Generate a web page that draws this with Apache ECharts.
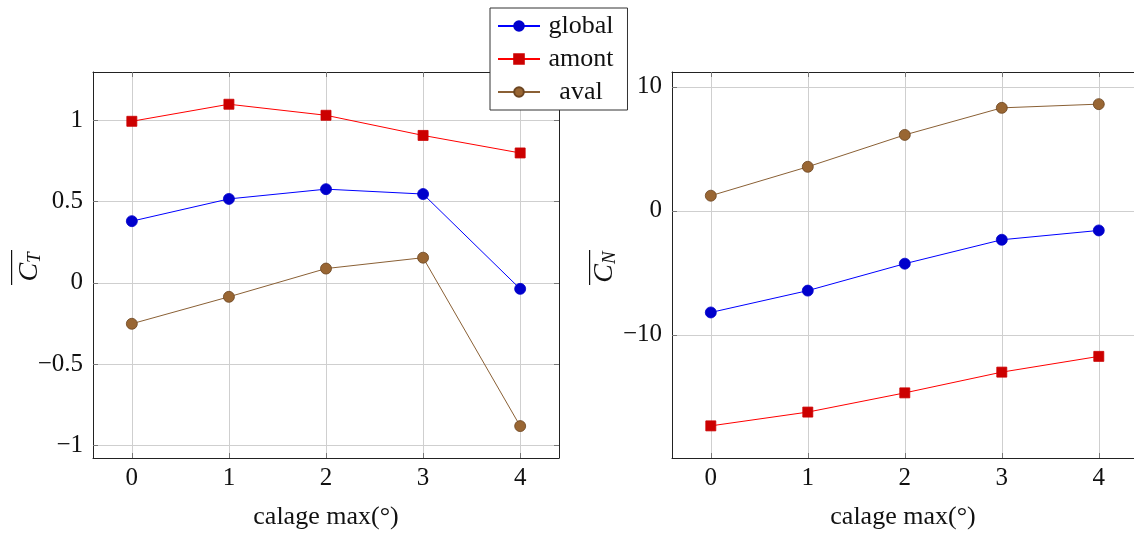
<!DOCTYPE html>
<html><head><meta charset="utf-8">
<script src="https://cdn.jsdelivr.net/npm/echarts@6/dist/echarts.min.js"></script>
<style>html,body{margin:0;padding:0;background:#fff;overflow:hidden}#c{width:1134px;height:535px}</style>
</head><body><div id="c"></div>
<script>
const xValues = [0, 1, 2, 3, 4];
const xTicks = [0, 1, 2, 3, 4];
const ctGlobal = [0.38, 0.517, 0.577, 0.547, -0.037];
const ctAmont = [0.995, 1.10, 1.032, 0.908, 0.80];
const ctAval = [-0.252, -0.086, 0.088, 0.155, -0.882];
const cnGlobal = [-8.19, -6.43, -4.26, -2.33, -1.58];
const cnAmont = [-17.33, -16.22, -14.67, -13.0, -11.73];
const cnAval = [1.22, 3.55, 6.12, 8.3, 8.6];
const ctTicks = [-1, -0.5, 0, 0.5, 1];
const cnTicks = [-10, 0, 10];
const xName = 'calage max(°)';
const yNames = ['{c|C}{s|T}', '{c|C}{s|N}'];

const FONT = 'Liberation Serif';
const pair = (ys) => xValues.map((x, i) => [x, ys[i]]);
const fmt = v => String(v).replace('-', '\u2212');

function xAx(gi, pos, show, max) {
  return {
    type: 'value', gridIndex: gi, position: pos, min: -0.4, max: max,
    axisLine: {show: true, onZero: false, lineStyle: {color: '#222', width: 1}},
    axisTick: {show: true, inside: true, length: 5, customValues: xTicks, lineStyle: {color: '#777'}},
    axisLabel: {show: show, customValues: xTicks, formatter: fmt, fontFamily: FONT, fontSize: 25, color: '#111', margin: 8},
    splitLine: {show: show, lineStyle: {color: '#cfcfcf', width: 1}},
    name: show ? xName : '', nameLocation: 'middle', nameGap: 46,
    nameTextStyle: {fontFamily: FONT, fontSize: 26, color: '#111'}
  };
}
function yAx(gi, pos, show, min, max, ticks, visible) {
  return {
    type: 'value', gridIndex: gi, position: pos, min: min, max: max, show: visible,
    axisLine: {show: true, onZero: false, lineStyle: {color: '#222', width: 1}},
    axisTick: {show: true, inside: true, length: 5, customValues: ticks, lineStyle: {color: '#777'}},
    axisLabel: {show: show, customValues: ticks, formatter: fmt, fontFamily: FONT, fontSize: 25, color: '#111', margin: 10},
    splitLine: {show: show, lineStyle: {color: '#cfcfcf', width: 1}}
  };
}
const styles = {
  global: {line: '#0000ff', fill: '#0000cc', border: '#0000cc', symbol: 'circle', size: 11},
  amont: {line: '#ff0000', fill: '#cc0000', border: '#cc0000', symbol: 'rect', size: 10},
  aval: {line: '#8a6035', fill: '#996633', border: '#6b4420', symbol: 'circle', size: 11}
};
function ser(name, data, xi, yi) {
  const s = styles[name];
  return {
    name: name, type: 'line', xAxisIndex: xi, yAxisIndex: yi, data: pair(data),
    symbol: s.symbol, symbolSize: s.size, showSymbol: true,
    lineStyle: {color: s.line, width: 1},
    itemStyle: {color: s.fill, borderColor: s.border, borderWidth: 0.8},
    emphasis: {disabled: true}, animation: false, z: 3
  };
}
const rich = {
  c: {fontFamily: FONT, fontStyle: 'italic', fontSize: 28, color: '#111'},
  s: {fontFamily: FONT, fontStyle: 'italic', fontSize: 19, color: '#111', padding: [10, 0, 0, 0]}
};
function yLabel(text, cx, cy, barX) {
  return [
    {type: 'text', x: cx, y: cy, rotation: Math.PI / 2,
     style: {text: text, rich: rich, align: 'center', verticalAlign: 'middle', fill: '#111'}},
    {type: 'rect', shape: {x: barX, y: cy - 17, width: 1.2, height: 35}, style: {fill: '#111'}}
  ];
}
const chart = echarts.init(document.getElementById('c'), null, {renderer: 'canvas'});
chart.setOption({
  animation: false,
  backgroundColor: '#fff',
  grid: [
    {left: 93, right: 575, top: 72, bottom: 74},
    {left: 672, right: 0, top: 72, bottom: 75}
  ],
  xAxis: [xAx(0, 'bottom', true, 4.4), xAx(0, 'top', false, 4.4), xAx(1, 'bottom', true, 4.363), xAx(1, 'top', false, 4.363)],
  yAxis: [
    yAx(0, 'left', true, -1.0786, 1.2986, ctTicks, true), yAx(0, 'right', false, -1.0786, 1.2986, ctTicks, true),
    yAx(1, 'left', true, -19.92, 11.19, cnTicks, true), yAx(1, 'right', false, -19.92, 11.19, cnTicks, false)
  ],
  legend: {
    orient: 'vertical', left: 490, top: 8, z: 10,
    data: ['global', 'amont', 'aval'],
    backgroundColor: '#fff', borderColor: '#333', borderWidth: 1,
    padding: [5, 14, 5, 7], itemGap: 7, itemWidth: 42, itemHeight: 12,
    formatter: n => '{a|' + n + '}',
    textStyle: {fontFamily: FONT, fontSize: 26, color: '#111',
      rich: {a: {fontFamily: FONT, fontSize: 26, color: '#111', width: 72, align: 'center'}}}
  },
  series: [
    ser('global', ctGlobal, 0, 0), ser('amont', ctAmont, 0, 0), ser('aval', ctAval, 0, 0),
    ser('global', cnGlobal, 2, 2), ser('amont', cnAmont, 2, 2), ser('aval', cnAval, 2, 2)
  ],
  graphic: [].concat(yLabel(yNames[0], 30, 267, 11), yLabel(yNames[1], 605, 267, 589))
});
</script></body></html>
